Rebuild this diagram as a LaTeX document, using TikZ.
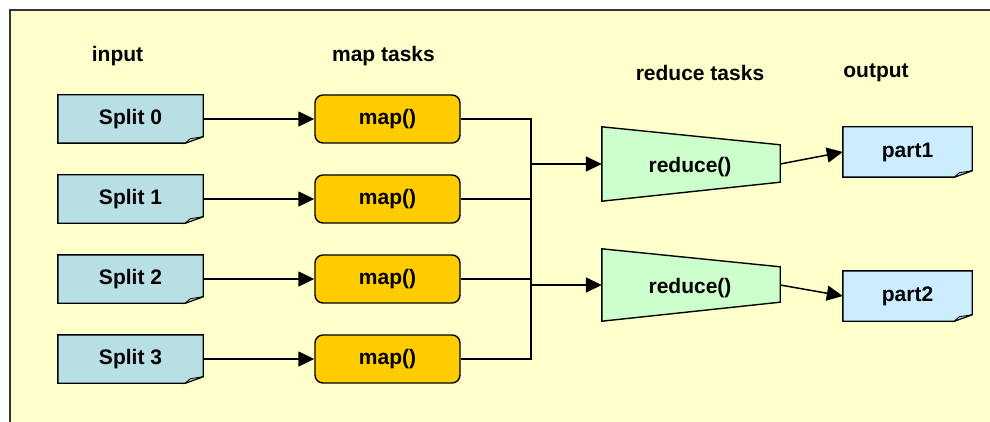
\documentclass[tikz,border=0pt]{standalone}
\usepackage{fontspec}
\setmainfont{Liberation Sans}
\usetikzlibrary{arrows.meta}
\pgfdeclarelayer{bg}
\pgfsetlayers{bg,main}
\definecolor{bgyellow}{HTML}{FFFFCC}
\definecolor{framegray}{HTML}{333333}
\definecolor{splitfill}{HTML}{B8DFE3}
\definecolor{mapfill}{HTML}{FFCC00}
\definecolor{redfill}{HTML}{CCFFCC}
\definecolor{partfill}{HTML}{CCECFF}
\newcommand\mydocshape[2]{%
  \begin{pgfonlayer}{bg}
  \path[draw=black, line width=1.4pt, fill=#2, line join=miter]
    (#1.north west) -- (#1.north east) -- ([yshift=6.5pt]#1.south east)
    -- ([xshift=-18pt]#1.south east) -- (#1.south west) -- cycle;
  \path[draw=black, line width=0.8pt, fill=#2!50!black!40!white]
    ([xshift=-18pt]#1.south east) -- ([xshift=-13pt,yshift=4.5pt]#1.south east)
    -- ([yshift=6.5pt]#1.south east) -- cycle;
  \end{pgfonlayer}}
\newcommand\mytrap[1]{%
  \begin{pgfonlayer}{bg}
  \path[draw=black, line width=1.4pt, fill=redfill]
    (#1.north west) -- ([yshift=-18pt]#1.north east) -- ([yshift=19pt]#1.south east)
    -- (#1.south west) -- cycle;
  \end{pgfonlayer}}
\tikzset{
  txt/.style={font=\bfseries\fontsize{21}{25}\selectfont, inner sep=0pt},
  docnode/.style={txt, minimum width=145pt, minimum height=48pt},
  partnode/.style={txt, minimum width=129pt, minimum height=50pt},
  mapnode/.style={txt, draw=black, line width=1.4pt, fill=mapfill, rounded corners=8pt,
    minimum width=145pt, minimum height=48pt},
  rednode/.style={txt, minimum width=178pt},
  redtext/.style={txt},
  conn/.style={line width=1.5pt, draw=black},
  arr/.style={conn, -{Triangle[length=16pt,width=15pt]}},
}
\begin{document}
\begin{tikzpicture}[x=1pt,y=-1pt]
\useasboundingbox (0,0) rectangle (990,422);
\begin{pgfonlayer}{bg}
\fill[white] (0,0) rectangle (990,422);
\begin{scope}
\clip (0,0) rectangle (990,422);
\path[draw=framegray, line width=2.5pt, fill=bgyellow] (10,10) rectangle (1010,440);
\end{scope}
\end{pgfonlayer}

\node[txt] (linput) at (117.5,56) {input};
\node[txt] (lmap) at (383.5,56) {map tasks};
\node[txt] (lred) at (700,73) {reduce tasks};
\node[txt] (lout) at (876,73) {output};

\node[docnode] (s0) at (130.5,119) {Split 0};
\node[docnode] (s1) at (130.5,199) {Split 1};
\node[docnode] (s2) at (130.5,279) {Split 2};
\node[docnode] (s3) at (130.5,359) {Split 3};
\mydocshape{s0}{splitfill}
\mydocshape{s1}{splitfill}
\mydocshape{s2}{splitfill}
\mydocshape{s3}{splitfill}

\node[mapnode] (m0) at (387.5,119) {map()};
\node[mapnode] (m1) at (387.5,199) {map()};
\node[mapnode] (m2) at (387.5,279) {map()};
\node[mapnode] (m3) at (387.5,359) {map()};

\node[rednode, minimum height=74pt] (r1) at (691,164) {};
\node[rednode, minimum height=72pt] (r2) at (691,285) {};
\node[redtext] (r1t) at (690,167) {reduce()};
\node[redtext] (r2t) at (690,288) {reduce()};
\mytrap{r1}
\mytrap{r2}

\node[partnode] (p1) at (907.5,152) {part1};
\node[partnode] (p2) at (907.5,296) {part2};
\mydocshape{p1}{partfill}
\mydocshape{p2}{partfill}

\coordinate (jx) at (531,0);

\draw[arr] (s0.east) -- (m0.west);
\draw[arr] (s1.east) -- (m1.west);
\draw[arr] (s2.east) -- (m2.west);
\draw[arr] (s3.east) -- (m3.west);

\draw[conn] (m0.east) -- (m0.east -| jx) -- (m3.east -| jx) -- (m3.east);
\draw[conn] (m1.east) -- (m1.east -| jx);
\draw[conn] (m2.east) -- (m2.east -| jx);

\draw[arr] (r1.west -| jx) -- (r1.west);
\draw[arr] (r2.west -| jx) -- (r2.west);

\draw[arr] (r1.east) -- (p1.west);
\draw[arr] (r2.east) -- (p2.west);
\end{tikzpicture}
\end{document}
